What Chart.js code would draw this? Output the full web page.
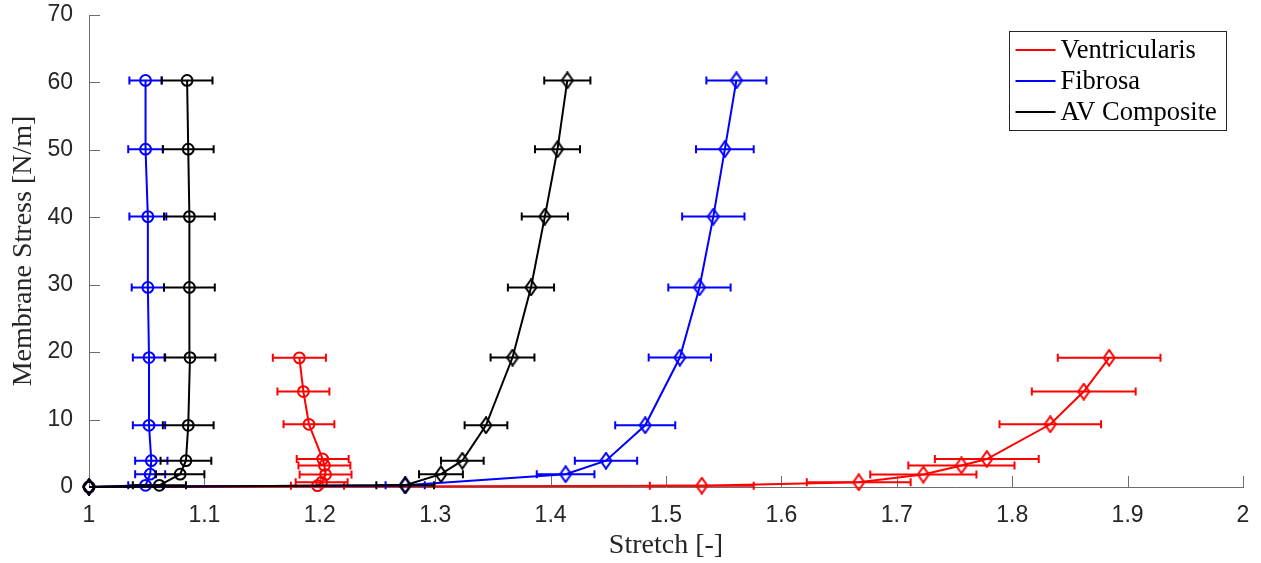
<!DOCTYPE html>
<html><head><meta charset="utf-8">
<script src="https://cdn.jsdelivr.net/npm/chart.js@4.4.0/dist/chart.umd.min.js"></script>
<style>html,body{margin:0;padding:0;background:#fff;}#wrap{width:1261px;height:563px;}</style>
</head><body><div id="wrap"><canvas id="c" width="1261" height="563"></canvas></div>
<script>
const seriesNames = ['Ventricularis', 'Fibrosa', 'AV Composite'];
const seriesColors = ['#ff0000', '#0000ff', '#000000'];
const xTicks = [1, 1.1, 1.2, 1.3, 1.4, 1.5, 1.6, 1.7, 1.8, 1.9, 2];
const xTickLabels = ['1', '1.1', '1.2', '1.3', '1.4', '1.5', '1.6', '1.7', '1.8', '1.9', '2'];
const yTicks = [0, 10, 20, 30, 40, 50, 60, 70];
const yTickLabels = ['0', '10', '20', '30', '40', '50', '60', '70'];

// Ventricularis
const ventStress = [0, 0.2, 0.7, 1.85, 3.2, 4.15, 9.3, 14.15, 19.15];
const ventCircStretch = [1, 1.198, 1.2016, 1.205, 1.204, 1.2025, 1.1906, 1.1858, 1.1823];
const ventCircErr = [0, 0.023, 0.0225, 0.0225, 0.0225, 0.0225, 0.022, 0.0225, 0.023];
const ventDiamStretch = [1, 1.531, 1.667, 1.723, 1.756, 1.778, 1.833, 1.862, 1.884];
const ventDiamErr = [0, 0.045, 0.045, 0.046, 0.046, 0.045, 0.044, 0.045, 0.0445];

// Fibrosa and AV composite share stress levels
const layerStress = [0, 0.25, 1.9, 3.9, 9.15, 19.2, 29.6, 40.1, 50.1, 60.3];
const fibCircStretch = [1, 1.049, 1.053, 1.054, 1.052, 1.052, 1.051, 1.051, 1.049, 1.049];
const fibCircErr = [0, 0.015, 0.013, 0.014, 0.014, 0.014, 0.014, 0.016, 0.015, 0.014];
const fibDiamStretch = [1, 1.274, 1.413, 1.448, 1.482, 1.512, 1.529, 1.541, 1.551, 1.561];
const fibDiamErr = [0, 0.017, 0.025, 0.027, 0.026, 0.027, 0.027, 0.027, 0.025, 0.026];
const avCircStretch = [1, 1.061, 1.079, 1.084, 1.086, 1.0875, 1.087, 1.087, 1.086, 1.085];
const avCircErr = [0, 0.023, 0.021, 0.022, 0.022, 0.022, 0.022, 0.022, 0.022, 0.022];
const avDiamStretch = [1, 1.274, 1.305, 1.3235, 1.344, 1.367, 1.383, 1.395, 1.406, 1.4145];
const avDiamErr = [0, 0.025, 0.019, 0.0185, 0.0185, 0.019, 0.02, 0.02, 0.0195, 0.02];

function diamondStyle(color) {
  const w = 14, h = 18;
  const c = document.createElement('canvas');
  c.width = w; c.height = h;
  const g = c.getContext('2d');
  g.strokeStyle = color; g.lineWidth = 2;
  g.beginPath();
  g.moveTo(w / 2, 1.2); g.lineTo(w - 1.5, h / 2); g.lineTo(w / 2, h - 1.2); g.lineTo(1.5, h / 2);
  g.closePath(); g.stroke();
  return c;
}

function makeSet(name, color, stretch, stress, err, marker, order) {
  return {
    label: name,
    data: stretch.map((x, i) => ({ x: x, y: stress[i] })),
    xErr: err,
    borderColor: color,
    borderWidth: 2,
    showLine: true,
    tension: 0,
    pointStyle: marker === 'd' ? diamondStyle(color) : 'circle',
    pointRadius: marker === 'd' ? 7 : 5.4,
    pointBorderWidth: 2,
    pointBorderColor: color,
    pointBackgroundColor: 'rgba(0,0,0,0)',
    clip: false,
    order: order
  };
}

const datasets = [
  makeSet(seriesNames[0], seriesColors[0], ventCircStretch, ventStress, ventCircErr, 'o', 6),
  makeSet(seriesNames[0], seriesColors[0], ventDiamStretch, ventStress, ventDiamErr, 'd', 5),
  makeSet(seriesNames[1], seriesColors[1], fibCircStretch, layerStress, fibCircErr, 'o', 4),
  makeSet(seriesNames[1], seriesColors[1], fibDiamStretch, layerStress, fibDiamErr, 'd', 3),
  makeSet(seriesNames[2], seriesColors[2], avCircStretch, layerStress, avCircErr, 'o', 2),
  makeSet(seriesNames[2], seriesColors[2], avDiamStretch, layerStress, avDiamErr, 'd', 1)
];

const errorBarPlugin = {
  id: 'errbars',
  beforeDatasetDraw(chart, args) {
    const ds = chart.data.datasets[args.index];
    const xs = chart.scales.x, ys = chart.scales.y;
    const ctx = chart.ctx;
    const cap = 4;
    ctx.save();
    ctx.strokeStyle = ds.borderColor;
    ctx.lineWidth = 2;
    ds.data.forEach((p, i) => {
      const e = ds.xErr[i];
      if (!e) return;
      const y = ys.getPixelForValue(p.y);
      const x0 = xs.getPixelForValue(p.x - e), x1 = xs.getPixelForValue(p.x + e);
      ctx.beginPath();
      ctx.moveTo(x0, y); ctx.lineTo(x1, y);
      ctx.moveTo(x0, y - cap); ctx.lineTo(x0, y + cap);
      ctx.moveTo(x1, y - cap); ctx.lineTo(x1, y + cap);
      ctx.stroke();
    });
    ctx.restore();
  }
};

const axisDecorPlugin = {
  id: 'axisdecor',
  beforeDatasetsDraw(chart) {
    const ctx = chart.ctx, a = chart.chartArea;
    const xs = chart.scales.x, ys = chart.scales.y;
    ctx.save();
    ctx.strokeStyle = '#6e6e6e';
    ctx.lineWidth = 1;
    ctx.beginPath();
    xs.ticks.forEach(t => {
      const x = Math.round(xs.getPixelForValue(t.value)) + 0.5;
      ctx.moveTo(x, a.bottom); ctx.lineTo(x, a.bottom - 11);
    });
    ys.ticks.forEach(t => {
      const y = Math.round(ys.getPixelForValue(t.value)) + 0.5;
      ctx.moveTo(a.left, y); ctx.lineTo(a.left + 11, y);
    });
    ctx.stroke();
    ctx.restore();
  },
  afterDraw(chart) {
    const ctx = chart.ctx, a = chart.chartArea;
    const L = a.right - 233.5, T = a.top + 16.5, W = 217, H = 99;
    ctx.save();
    ctx.fillStyle = '#ffffff';
    ctx.fillRect(L, T, W, H);
    ctx.strokeStyle = '#262626';
    ctx.lineWidth = 1;
    ctx.strokeRect(L, T, W, H);
    ctx.font = '26.5px "Liberation Serif", "Times New Roman", serif';
    ctx.textBaseline = 'middle';
    ctx.textAlign = 'left';
    seriesNames.forEach((n, i) => {
      const y = T + 18.5 + i * 31;
      ctx.strokeStyle = seriesColors[i];
      ctx.lineWidth = 2;
      ctx.beginPath(); ctx.moveTo(L + 6, y); ctx.lineTo(L + 46, y); ctx.stroke();
      ctx.fillStyle = '#000000';
      ctx.fillText(n, L + 51, y + 1);
    });
    ctx.restore();
  }
};

const tickFont = { family: '"Liberation Sans", Arial, Helvetica, sans-serif', size: 23 };
const titleFont = { family: '"Liberation Serif", "Times New Roman", serif', size: 28 };

new Chart(document.getElementById('c'), {
  type: 'scatter',
  data: { datasets: datasets },
  options: {
    responsive: false,
    animation: false,
    devicePixelRatio: 1,
    layout: { padding: { top: 15, right: 18, left: 0, bottom: 0 } },
    plugins: { legend: { display: false }, tooltip: { enabled: false } },
    scales: {
      x: {
        type: 'linear', min: 1, max: 2,
        afterBuildTicks: s => { s.ticks = xTicks.map(v => ({ value: v })); },
        afterFit: s => { s.height = 76; s.paddingLeft = 0; s.paddingRight = 0; },
        ticks: { color: '#262626', font: tickFont, padding: 15, maxRotation: 0,
                 callback: (v, i) => xTickLabels[i] },
        grid: { display: true, drawOnChartArea: false, drawTicks: false },
        border: { display: true, color: '#6e6e6e', width: 1 },
        title: { display: true, text: 'Stretch [-]', color: '#262626', font: titleFont,
                 padding: { top: 0, bottom: 1 } }
      },
      y: {
        type: 'linear', min: 0, max: 70,
        afterBuildTicks: s => { s.ticks = yTicks.map(v => ({ value: v })); },
        afterFit: s => { s.width = 89; s.paddingTop = 0; s.paddingBottom = 0; },
        ticks: { color: '#262626', font: tickFont, padding: 16,
                 callback: (v, i) => yTickLabels[i] },
        grid: { display: true, drawOnChartArea: false, drawTicks: false },
        border: { display: true, color: '#6e6e6e', width: 1 },
        title: { display: true, text: 'Membrane Stress [N/m]', color: '#262626', font: titleFont,
                 padding: { top: 7, bottom: 0 } }
      }
    }
  },
  plugins: [errorBarPlugin, axisDecorPlugin]
});
</script></body></html>
